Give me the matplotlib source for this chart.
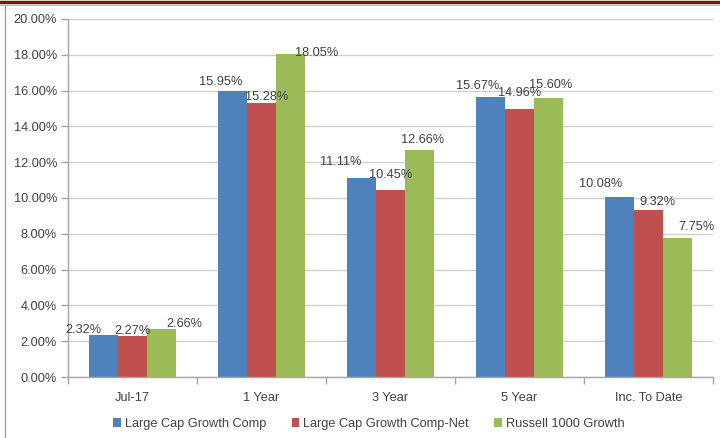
import numpy as np
import matplotlib.pyplot as plt
from matplotlib.lines import Line2D
from matplotlib.ticker import FuncFormatter, FixedLocator

plt.rcParams['font.family'] = ['Liberation Sans', 'DejaVu Sans']

periods = ["Jul-17", "1 Year", "3 Year", "5 Year", "Inc. To Date"]
series_names = ["Large Cap Growth Comp", "Large Cap Growth Comp-Net", "Russell 1000 Growth"]
comp = [2.32, 15.95, 11.11, 15.67, 10.08]
comp_net = [2.27, 15.28, 10.45, 14.96, 9.32]
russell = [2.66, 18.05, 12.66, 15.60, 7.75]

colors = ["#4F81BD", "#C0504D", "#9BBB59"]
text_color = "#404040"
fs = 9.2

# label placement (pixels relative to bar top centre), set per bar to avoid overlaps
label_dx = [[-20, -12, -21, -13, -19],
            [0, 5, 0, 0, 9],
            [23, 26, 3, 2, 19]]
label_dy = [[5, 9, 16, 11, 13],
            [5, 6, 15, 16, 8],
            [5, 1, 10, 13, 11]]

fig = plt.figure(figsize=(7.2, 4.38), dpi=100)
ax = fig.add_axes([68 / 720, 1 - 377 / 438, 645 / 720, 358 / 438])

x = np.arange(len(periods))
w = 0.2225
all_series = [comp, comp_net, russell]
for i, vals in enumerate(all_series):
    xs = x + (i - 1) * w
    ax.bar(xs, vals, width=w, color=colors[i], label=series_names[i], zorder=2)
    for j, v in enumerate(vals):
        ax.annotate(f"{v:.2f}%", (xs[j], v), xytext=(label_dx[i][j], label_dy[i][j]),
                    textcoords="offset pixels", ha="center", va="center",
                    fontsize=fs, color=text_color, zorder=3)

ax.set_xlim(-0.5, len(periods) - 0.5)
ax.set_ylim(0, 20)
ax.set_yticks(np.arange(0, 20.01, 2))
ax.yaxis.set_major_formatter(FuncFormatter(lambda v, p: f"{v:.2f}%"))
ax.grid(axis="y", color="#D0D0D0", linewidth=1, zorder=0)
ax.set_axisbelow(True)

ax.set_xticks(x)
ax.set_xticklabels(periods)
ax.xaxis.set_minor_locator(FixedLocator(np.arange(-0.5, len(periods), 1)))
ax.tick_params(axis="x", which="major", length=0, pad=11, labelsize=fs, labelcolor=text_color)
ax.tick_params(axis="x", which="minor", length=5, color="#A6A6A6", width=1)
ax.tick_params(axis="y", length=5, color="#A6A6A6", width=1, labelsize=fs,
               labelcolor=text_color, pad=3)

for side in ["top", "right"]:
    ax.spines[side].set_visible(False)
for side in ["left", "bottom"]:
    ax.spines[side].set_color("#A6A6A6")
    ax.spines[side].set_linewidth(1)

fig.legend(loc="center", bbox_to_anchor=(369 / 720, 1 - 424 / 438), ncol=3,
           frameon=False, fontsize=fs, labelcolor=text_color,
           handlelength=0.6, handleheight=0.6, handletextpad=0.3, columnspacing=2.0)

# frame lines around the chart
fig.add_artist(Line2D([0, 1], [1 - 1.5 / 438, 1 - 1.5 / 438], color="#7F1416", linewidth=2.5))
fig.add_artist(Line2D([0, 1], [1 - 4.5 / 438, 1 - 4.5 / 438], color="#BFBFBF", linewidth=0.8))
fig.add_artist(Line2D([4.5 / 720, 4.5 / 720], [0, 1 - 4.5 / 438], color="#A6A6A6", linewidth=1))

fig.savefig("out.png", dpi=100)
